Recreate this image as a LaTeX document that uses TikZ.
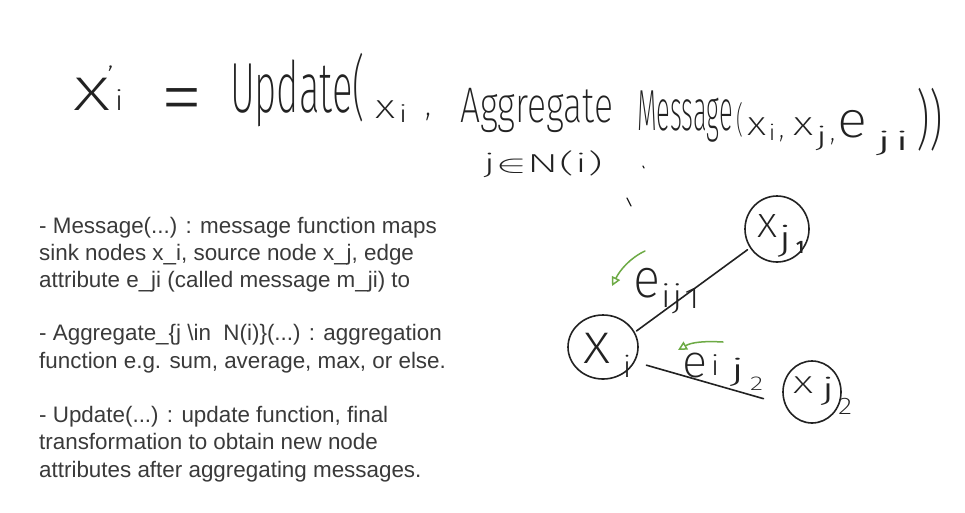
\documentclass[tikz,border=0pt]{standalone}
\usepackage{fontspec}
\usepackage{graphicx}
\usetikzlibrary{arrows.meta,shapes.geometric}
\setmainfont{Liberation Sans}
% thinnest available sans for the pen-written formula
\IfFontExistsTF{Fira Sans ExtraLight}
  {\newfontfamily\hwfont{Fira Sans ExtraLight}}
  {\IfFontExistsTF{Fira Sans Light}
    {\newfontfamily\hwfont{Fira Sans Light}}
    {\IfFontExistsTF{DejaVu Sans ExtraLight}
      {\newfontfamily\hwfont{DejaVu Sans ExtraLight}}
      {\newfontfamily\hwfont{Fira Sans}}}}
\definecolor{ink}{HTML}{222222}
\definecolor{txtgray}{HTML}{3A3A3A}
\definecolor{greenink}{HTML}{6DAA45}
% handwritten-style glyphs: width (pt), size (pt), text
\newcommand\hwfit[3]{\resizebox{#1pt}{\height}{\hwfont\fontsize{#2pt}{#2pt}\selectfont #3}}
\begin{document}
\begin{tikzpicture}[x=1pt,y=-1pt,
  hw/.style={anchor=base west,inner sep=0pt,outer sep=0pt,text=ink},
  txt/.style={anchor=base west,inner sep=0pt,text=txtgray,
    font=\fontsize{22.4pt}{26pt}\selectfont},
  circ/.style={ellipse,draw=ink,line width=1.6pt,inner sep=0pt},
  edge/.style={draw=ink,line width=1.6pt,line cap=round},
  garrow/.style={draw=greenink,line width=1.5pt,line cap=round,
    -{Triangle[open,length=9pt,width=9pt,line width=1.5pt]}},
  penmark/.style={draw=ink,line width=1.2pt,line cap=round}]
\fill[white] (0,0) rectangle (965,512);
\useasboundingbox (0,0) rectangle (965,512);

% ---- update rule ----
\node[hw] (lx)   at (73,110)  {\hwfit{37}{62}{x}};
\node[hw] (lpr)  at (107,86)  {\hwfit{7}{28}{’}};
\node[hw] (li)   at (114,110) {\hwfit{10}{28}{i}};
\node[hw] (eq)   at (160,126) {\hwfit{43}{87}{=}};
\node[hw] (upd)  at (230,112) {\hwfit{135}{71}{Update(}};
\node[hw] (ux)   at (375,118) {\hwfit{20}{34}{x}};
\node[hw] (ui)   at (398,122) {\hwfit{10}{24}{i}};
\node[hw] (uc)   at (425,115) {\hwfit{6}{36}{,}};
\node[hw] (agg)  at (460,122) {\hwfit{153}{50}{Aggregate}};
\node[hw] (aggs) at (483,172) {\resizebox{120pt}{\height}{\hwfont\fontsize{26pt}{26pt}\selectfont j$\in$N(i)}};
\node[hw] (msg)  at (637,130) {\hwfit{96}{58}{Message}};
\node[hw] (mp)   at (736,132) {\hwfit{7}{36}{(}};
\node[hw] (mx1)  at (747,135) {\hwfit{19}{34}{x}};
\node[hw] (mi)   at (768,140) {\hwfit{8}{22}{i}};
\node[hw] (mc1)  at (779,137) {\hwfit{5}{30}{,}};
\node[hw] (mx2)  at (793,135) {\hwfit{20}{34}{x}};
\node[hw] (mj)   at (815,145) {\hwfit{13}{26}{j}};
\node[hw] (mc2)  at (830,140) {\hwfit{5}{30}{,}};
\node[hw] (me)   at (837,137) {\hwfit{30}{51}{e}};
\node[hw] (mji)  at (875,150) {\hwfit{36}{26}{ji}};
\node[hw] (mpp)  at (916,142) {\hwfit{27}{65}{))}};
% stray pen marks
\draw[penmark] (643,166) -- (644,168);
\draw[penmark] (627,198) -- (631,206);

% ---- explanations ----
\node[txt] (m1) at (39,233) {- Message(...) : message function maps};
\node[txt] (m2) at (39,260) {sink nodes x\_i, source node x\_j, edge};
\node[txt] (m3) at (39,287) {attribute e\_ji (called message m\_ji) to};
\node[txt] (a1) at (39,340) {- Aggregate\_\{j \textbackslash in\ \ N(i)\}(...) : aggregation};
\node[txt] (a2) at (39,368) {function e.g. sum, average, max, or else.};
\node[txt] (u1) at (39,422) {- Update(...) : update function, final};
\node[txt] (u2) at (39,449) {transformation to obtain new node};
\node[txt] (u3) at (39,477) {attributes after aggregating messages.};

% ---- small graph ----
\node[circ,minimum width=70pt,minimum height=64pt] (xi)  at (603,347) {};
\node[circ,minimum width=64pt,minimum height=66pt] (xj1) at (777,229) {};
\node[circ,minimum width=58pt,minimum height=62pt] (xj2) at (812,392) {};

\node[hw] (xit)  at (583,363) {\hwfit{27}{58}{x}};
\node[hw] (xis)  at (622,377) {\hwfit{10}{30}{i}};
\node[hw] (xj1t) at (757,237) {\hwfit{20}{44}{x}};
\node[hw] (xj1s) at (777,250) {\hwfit{16}{34}{j}};
\node[hw] (xj1n) at (796,253) {\hwfit{8}{18}{\bfseries 1}};
\node[hw] (xj2t) at (793,393) {\hwfit{20}{32}{x}};
\node[hw] (xj2s) at (820,399) {\hwfit{16}{30}{j}};
\node[hw] (xj2n) at (838,414) {\hwfit{14}{24}{2}};

\draw[edge,shorten <=2pt,shorten >=3pt] (xi.25) -- (xj1.215);
\draw[edge,shorten <=12pt,shorten >=22pt] (xi.-25) -- (xj2.205);

% edge labels
\node[hw] (e1)  at (633,297) {\hwfit{27}{55}{e}};
\node[hw] (e1s) at (660,307) {\hwfit{23}{32}{ij}};
\node[hw] (e1n) at (684,308) {\hwfit{16}{30}{1}};
\node[hw] (e2)  at (682,377) {\hwfit{25}{46}{e}};
\node[hw] (e2i) at (710,375) {\hwfit{10}{28}{i}};
\node[hw] (e2j) at (729,380) {\hwfit{17}{30}{j}};
\node[hw] (e2n) at (750,390) {\hwfit{13}{20}{2}};

% green pointers
\coordinate (g1s) at (645,251);
\coordinate (g1e) at (612,286);
\draw[garrow] (g1s) .. controls (630,258) and (620,270) .. (g1e);
\coordinate (g2s) at (723,342);
\coordinate (g2e) at (678,350);
\draw[garrow] (g2s) .. controls (705,341) and (692,342) .. (g2e);
\end{tikzpicture}
\end{document}
